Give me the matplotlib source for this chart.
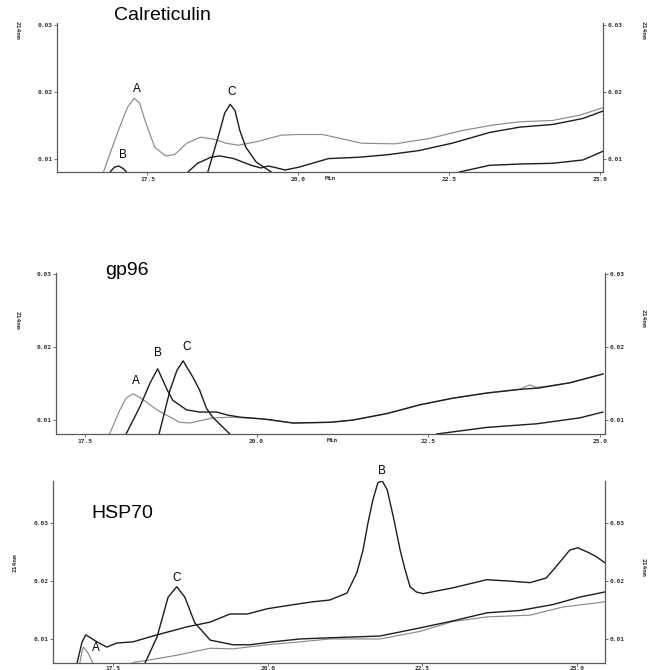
import matplotlib
matplotlib.use("Agg")
import matplotlib.pyplot as plt

# ---- Calreticulin panel ----
cal_a_t = [16.77, 17.0, 17.17, 17.28, 17.37, 17.45, 17.62, 17.8, 17.95, 18.15, 18.38, 18.6, 18.8, 19.0,
           19.3, 19.72, 20.0, 20.4, 20.75, 21.05, 21.6, 22.17, 22.72, 23.22, 23.67, 24.22, 24.67, 25.05]
cal_a_v = [0.0081, 0.0139, 0.0178, 0.0191, 0.0184, 0.0160, 0.0118, 0.0105, 0.0107, 0.0124, 0.0133, 0.0130,
           0.0124, 0.0121, 0.0126, 0.0136, 0.0137, 0.0137, 0.0130, 0.0124, 0.0123, 0.0131, 0.0143, 0.0151,
           0.0156, 0.0158, 0.0166, 0.0177]
cal_b_t = [16.88, 16.95, 17.02, 17.1, 17.15]
cal_b_v = [0.0081, 0.0088, 0.0090, 0.0086, 0.0081]
cal_c_t = [18.5, 18.67, 18.78, 18.87, 18.95, 19.03, 19.13, 19.3, 19.55]
cal_c_v = [0.0081, 0.0133, 0.0169, 0.0182, 0.0173, 0.0143, 0.0118, 0.0096, 0.0081]
cal_c2_t = [22.67, 23.17, 23.7, 24.22, 24.72, 25.05]
cal_c2_v = [0.0081, 0.0091, 0.0093, 0.0094, 0.0099, 0.0112]
cal_d_t = [18.17, 18.33, 18.55, 18.7, 18.93, 19.22, 19.38, 19.5, 19.6, 19.78, 20.0, 20.5, 21.0, 21.5,
           22.0, 22.55, 23.17, 23.67, 24.22, 24.72, 25.05]
cal_d_v = [0.0081, 0.0094, 0.0103, 0.0105, 0.0101, 0.0091, 0.0087, 0.0090, 0.0088, 0.0084, 0.0088, 0.0101,
           0.0103, 0.0107, 0.0113, 0.0124, 0.0140, 0.0148, 0.0152, 0.0161, 0.0172]

# ---- gp96 panel ----
gp_a_t = [17.86, 18.01, 18.1, 18.2, 18.3, 18.55, 18.88, 19.03, 19.36, 19.65, 20.05, 20.53, 21.07, 21.4,
          21.9, 22.38, 22.86, 23.35, 23.83, 23.92, 23.98, 24.05, 24.12, 24.56, 25.04]
gp_a_v = [0.0081, 0.0114, 0.0130, 0.0136, 0.0131, 0.0114, 0.0097, 0.0096, 0.0103, 0.0104, 0.0102, 0.0096,
          0.0097, 0.0100, 0.0109, 0.0121, 0.0130, 0.0137, 0.0142, 0.0146, 0.0148, 0.0145, 0.0145, 0.0151,
          0.0163]
gp_b_t = [18.1, 18.3, 18.45, 18.56, 18.7, 18.78, 18.98, 19.17, 19.42, 19.57, 19.76, 20.15, 20.53, 21.07,
          21.4, 21.9, 22.38, 22.86, 23.35, 23.83, 24.12, 24.56, 25.04]
gp_b_v = [0.0081, 0.0118, 0.0151, 0.0170, 0.0141, 0.0127, 0.0114, 0.0111, 0.0111, 0.0107, 0.0104, 0.0101,
          0.0096, 0.0097, 0.0100, 0.0109, 0.0121, 0.0130, 0.0137, 0.0142, 0.0144, 0.0151, 0.0163]
gp_c_t = [18.58, 18.74, 18.84, 18.93, 19.07, 19.17, 19.27, 19.36, 19.61]
gp_c_v = [0.0081, 0.0141, 0.0168, 0.0181, 0.0159, 0.0141, 0.0116, 0.0104, 0.0081]
gp_c2_t = [22.62, 23.35, 24.08, 24.7, 25.04]
gp_c2_v = [0.0081, 0.0090, 0.0095, 0.0103, 0.0111]

# ---- HSP70 panel ----
hsp_b_t = [16.9, 17.0, 17.06, 17.24, 17.4, 17.56, 17.82, 18.21, 18.7, 19.07, 19.39, 19.67, 19.99, 20.41,
           20.73, 21.0, 21.28, 21.44, 21.54, 21.62, 21.7, 21.78, 21.85, 21.93, 22.03, 22.14, 22.22, 22.3,
           22.4, 22.51, 22.99, 23.54, 23.86, 24.24, 24.5, 24.64, 24.88, 25.01, 25.2, 25.32, 25.45]
hsp_b_v = [0.0050, 0.0095, 0.0107, 0.0095, 0.0086, 0.0093, 0.0095, 0.0107, 0.0121, 0.0129, 0.0143, 0.0143,
           0.0152, 0.0159, 0.0164, 0.0167, 0.0179, 0.0214, 0.0253, 0.0300, 0.0340, 0.0369, 0.0372, 0.0357,
           0.0310, 0.0253, 0.0219, 0.0190, 0.0181, 0.0178, 0.0188, 0.0202, 0.0200, 0.0197, 0.0205, 0.0222,
           0.0253, 0.0257, 0.0248, 0.0241, 0.0231]
hsp_a_t = [16.95, 17.0, 17.02, 17.1, 17.21]
hsp_a_v = [0.0050, 0.0080, 0.0086, 0.0075, 0.0050]
hsp_c_t = [17.98, 18.21, 18.39, 18.53, 18.66, 18.82, 19.07, 19.44, 19.71, 20.08, 20.52, 21.0, 21.81, 22.46,
           22.99, 23.54, 24.07, 24.6, 25.04, 25.45]
hsp_c_v = [0.0050, 0.0103, 0.0172, 0.0190, 0.0172, 0.0128, 0.0098, 0.0090, 0.0090, 0.0095, 0.0100, 0.0102,
           0.0105, 0.0119, 0.0131, 0.0145, 0.0149, 0.0159, 0.0172, 0.0181]
hsp_d_t = [17.6, 17.85, 18.1, 18.53, 19.07, 19.44, 19.99, 20.52, 21.0, 21.81, 22.46, 22.99, 23.54, 24.24,
           24.77, 25.45]
hsp_d_v = [0.0050, 0.0060, 0.0064, 0.0072, 0.0084, 0.0083, 0.0090, 0.0095, 0.0100, 0.0100, 0.0113, 0.0130,
           0.0138, 0.0141, 0.0155, 0.0164]

x_ticks = [17.5, 20.0, 22.5, 25.0]
x_tick_labels = ["17.5", "20.0", "22.5", "25.0"]
y_ticks = [0.01, 0.02, 0.03]
y_tick_labels = ["0.01", "0.02", "0.03"]

W, H = 650, 670
DARK = "#1c1c1c"
GREY = "#8a8a8a"
AXC = "#5a5a5a"

fig = plt.figure(figsize=(W / 100, H / 100), dpi=100)


def px_axes(left, top, right, bottom):
    return fig.add_axes([left / W, 1 - bottom / H, (right - left) / W, (bottom - top) / H])


def ftext(x, y, s, **kw):
    fig.text(x / W, 1 - y / H, s, ha="center", va="center", **kw)


def style(ax, xlim, ylim, xpad=1.5):
    ax.set_xlim(*xlim)
    ax.set_ylim(*ylim)
    for side in ["left", "right", "bottom"]:
        ax.spines[side].set_color(AXC)
        ax.spines[side].set_linewidth(0.9)
    ax.spines["top"].set_visible(False)
    ax.set_xticks(x_ticks)
    ax.set_xticklabels(x_tick_labels)
    ax.set_yticks(y_ticks)
    ax.set_yticklabels(y_tick_labels)
    ax.tick_params(axis="both", length=2, width=0.6, color=AXC, pad=1.5,
                   labelsize=4.5, labelcolor="#333333")
    ax.tick_params(axis="x", pad=xpad)
    ax.tick_params(axis="y", right=True, labelright=True)
    for lab in ax.get_xticklabels() + ax.get_yticklabels():
        lab.set_family("DejaVu Sans Mono")
        lab.set_weight("bold")


small = dict(fontsize=4.5, family="DejaVu Sans Mono", weight="bold", color="#333333")
big = dict(fontsize=14, family="Liberation Sans")
peak = dict(fontsize=8.5, family="Liberation Sans")

# Calreticulin
ax1 = px_axes(57, 23.3, 603, 172)
style(ax1, (16.0, 25.05), (0.0081, 0.0303))
ax1.plot(cal_a_t, cal_a_v, color=GREY, lw=0.85)
ax1.plot(cal_d_t, cal_d_v, color=DARK, lw=1.0)
ax1.plot(cal_c_t, cal_c_v, color=DARK, lw=1.0)
ax1.plot(cal_c2_t, cal_c2_v, color=DARK, lw=1.0)
ax1.plot(cal_b_t, cal_b_v, color=DARK, lw=1.0)
ftext(162, 15, "Calreticulin", **big)
ftext(137, 89, "A", **peak)
ftext(123, 155, "B", **peak)
ftext(232, 92, "C", **peak)
ftext(330, 179, "Min", **small)
ftext(17, 30, "214nm", rotation=-90, **small)
ftext(643, 30, "214nm", rotation=-90, **small)

# gp96
ax2 = px_axes(56, 273, 605, 434)
style(ax2, (17.08, 25.07), (0.0081, 0.0301))
ax2.plot(gp_a_t, gp_a_v, color=GREY, lw=0.85)
ax2.plot(gp_b_t, gp_b_v, color=DARK, lw=1.0)
ax2.plot(gp_c_t, gp_c_v, color=DARK, lw=1.0)
ax2.plot(gp_c2_t, gp_c2_v, color=DARK, lw=1.0)
ftext(127, 270, "gp96", **big)
ftext(136, 381, "A", **peak)
ftext(158, 353, "B", **peak)
ftext(187, 347, "C", **peak)
ftext(332, 441, "Min", **small)
ftext(17, 320, "214nm", rotation=-90, **small)
ftext(643, 318, "214nm", rotation=-90, **small)

# HSP70 (bottom edge raised a little so the tick labels stay inside the picture)
ax3 = px_axes(53, 481, 605, 663)
style(ax3, (16.53, 25.45), (0.00586, 0.0372), xpad=0.5)
ax3.plot(hsp_d_t, hsp_d_v, color=GREY, lw=0.85)
ax3.plot(hsp_a_t, hsp_a_v, color=GREY, lw=0.85)
ax3.plot(hsp_c_t, hsp_c_v, color=DARK, lw=1.0)
ax3.plot(hsp_b_t, hsp_b_v, color=DARK, lw=1.0)
ftext(122, 513, "HSP70", **big)
ftext(96, 648, "A", **peak)
ftext(382, 471, "B", **peak)
ftext(177, 578, "C", **peak)
ftext(15, 563, "214nm", rotation=90, **small)
ftext(643, 567, "214nm", rotation=-90, **small)

fig.savefig("out.png", dpi=100)
